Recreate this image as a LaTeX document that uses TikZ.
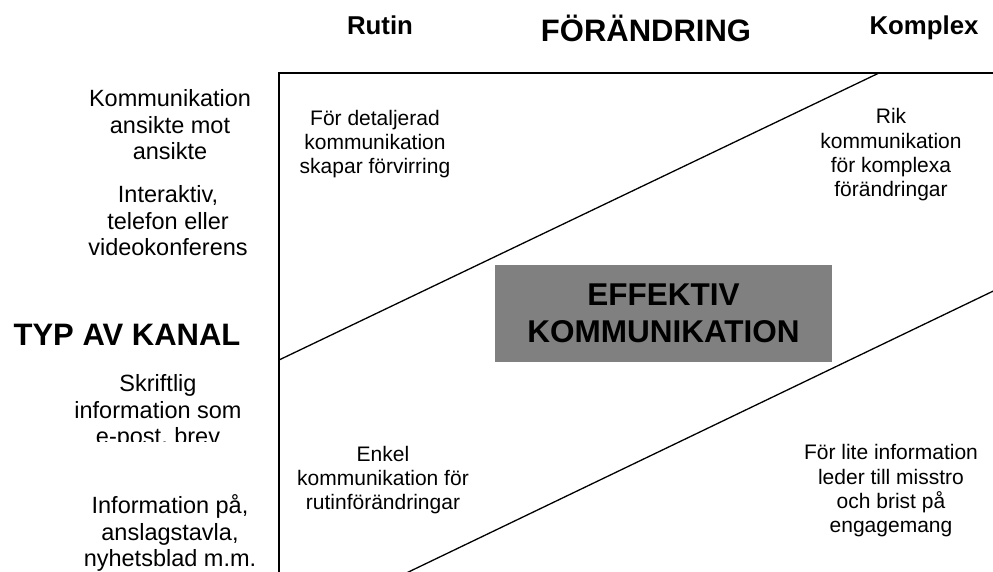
\documentclass[tikz,border=0pt]{standalone}
\usepackage{fontspec}
\setmainfont{Liberation Sans}
\usepackage{tikz}
\usetikzlibrary{positioning}
\definecolor{effgray}{HTML}{808080}
\tikzset{
  % --- headings ---
  axishead/.style={font=\fontsize{31}{36}\selectfont\bfseries, inner sep=0pt},
  axisend/.style={font=\fontsize{25.8}{30}\selectfont\bfseries, inner sep=0pt},
  % --- channel labels on the left ---
  chanlabel/.style={font=\fontsize{23.5}{26.5}\selectfont, align=center,
                    inner sep=0pt},
  % --- texts in the four zones ---
  zonetext/.style={font=\fontsize{21}{24.3}\selectfont, align=center,
                   inner sep=0pt},
  effbox/.style={fill=effgray, minimum width=337pt, minimum height=97pt,
                 align=center, inner sep=0pt,
                 font=\fontsize{31.5}{37}\selectfont\bfseries},
  frameline/.style={line width=1.7pt},
  zoneline/.style={line width=1.3pt},
}

\begin{document}
\begin{tikzpicture}[x=1pt,y=-1pt]
  \useasboundingbox (0,0) rectangle (993,572);
  \clip (0,0) rectangle (993,572);

  % --- headings on top and left ---
  \node[axisend, anchor=base] (rutin) at (380,35) {Rutin};
  \node[axishead, anchor=base] (change) at (646,42) {FÖRÄNDRING};
  \node[axisend, anchor=base] (komplex) at (924,35) {Komplex};
  \node[axishead] (kanal) at (127,335) {TYP AV KANAL};

  % --- channel types, rich to lean ---
  \node[chanlabel] (face) at (170,125) {Kommunikation\\ansikte mot\\ansikte};
  \node[chanlabel] (phone) at (168,221) {Interaktiv,\\telefon eller\\videokonferens};
  \begin{scope}
    \clip (0,0) rectangle (279,441);
    \node[chanlabel] (mail) at (158,412) {Skriftlig\\information som\\e-post, brev};
  \end{scope}
  \node[chanlabel] (board) at (170,533) {Information på,\\anslagstavla,\\nyhetsblad m.m.};

  % --- frame (right and bottom side run off the page) ---
  \coordinate (fsw) at (279,600);
  \coordinate (fnw) at (279,73);
  \coordinate (fne) at (1020,73);
  \draw[frameline] (fsw) -- (fnw) -- (fne);

  % --- the two zone borders ---
  \coordinate (upA) at (279,360);
  \coordinate (upB) at (879,73);
  \coordinate (loA) at (371,590);
  \coordinate (loB) at (1010,283);
  \draw[zoneline] (upA) -- (upB);
  \draw[zoneline] (loA) -- (loB);

  % --- zone texts ---
  \node[zonetext] (tooRich) at (375,144) {För detaljerad\\kommunikation\\skapar förvirring};
  \node[zonetext] (rich) at (891,155) {Rik\\kommunikation\\för komplexa\\förändringar};
  \node[zonetext] (lean) at (383,480) {Enkel\\kommunikation för\\rutinförändringar};
  \node[zonetext] (tooLean) at (891,491) {För lite information\\leder till misstro\\och brist på\\engagemang};

  % --- centre box ---
  \node[effbox] (eff) at (663.5,313.5) {EFFEKTIV\\KOMMUNIKATION};
\end{tikzpicture}
\end{document}
